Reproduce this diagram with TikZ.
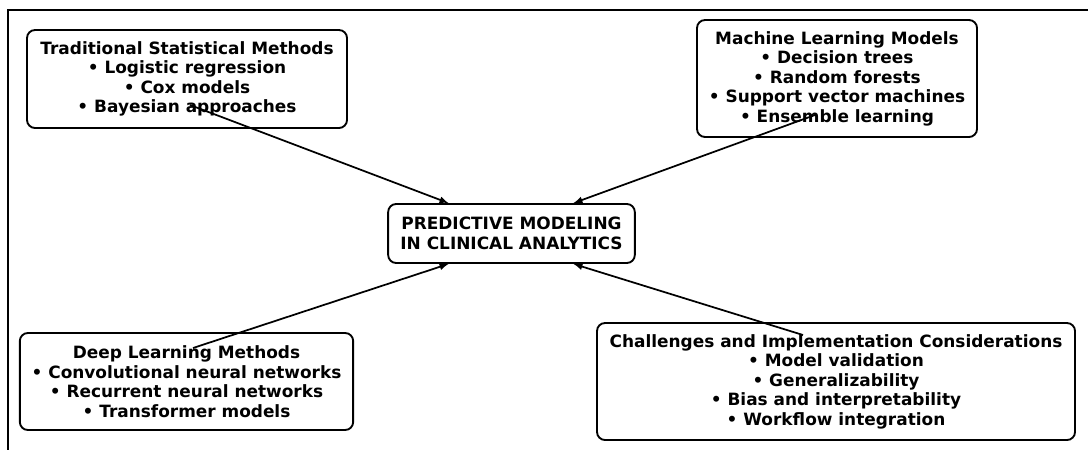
\documentclass[tikz,border=0pt]{standalone}
\usepackage{fontspec}
\setmainfont{DejaVu Sans}
\usepackage{tikz}
\usetikzlibrary{arrows,calc,positioning}

\tikzset{
  topic/.style={draw, rounded corners=6pt, line width=1.4pt, align=center,
    inner sep=2pt, font=\bfseries\fontsize{12.7}{14.6}\selectfont},
  link/.style={-latex, line width=1.3pt}
}

\begin{document}
\begin{tikzpicture}[x=0.75pt,y=-0.75pt]
      \useasboundingbox (0,0) rectangle (1088,450);
      % frame
      \draw[line width=1.1pt] (1088,10) -| (8,450);
      \node[topic, minimum width=240pt, minimum height=73.5pt] at (187,79) (trad)
        {Traditional Statistical Methods\\ • Logistic regression\\ • Cox models\\ • Bayesian approaches};
      \node[topic, minimum width=210pt, minimum height=87.75pt] at (837,78.5) (ml)
        {Machine Learning Models\\ • Decision trees\\ • Random forests\\ • Support vector machines\\ • Ensemble learning};
      \node[topic, minimum width=185pt, minimum height=44.25pt] at (511.5,233.5) (core)
        {PREDICTIVE MODELING\\ IN CLINICAL ANALYTICS};
      \node[topic, minimum width=250pt, minimum height=72.75pt] at (186.5,381.5) (deep)
        {Deep Learning Methods\\ • Convolutional neural networks\\ • Recurrent neural networks\\ • Transformer models};
      \node[topic, minimum width=358.5pt, minimum height=87.75pt] at (836,381.5) (chal)
        {Challenges and Implementation Considerations\\ • Model validation\\ • Generalizability\\ • Bias and interpretability\\ • Workflow integration};
      \coordinate (tradout) at (190,105);
      \coordinate (mlout) at (815,115);
      \coordinate (deepout) at (193,348);
      \coordinate (chalout) at (803,335);
      \draw[link] (tradout) -- ($(core.north)+(-63,0)$);
      \draw[link] (mlout) -- ($(core.north)+(62,0)$);
      \draw[link] (deepout) -- ($(core.south)+(-63,0)$);
      \draw[link] (chalout) -- ($(core.south)+(62,0)$);
\end{tikzpicture}
\end{document}
